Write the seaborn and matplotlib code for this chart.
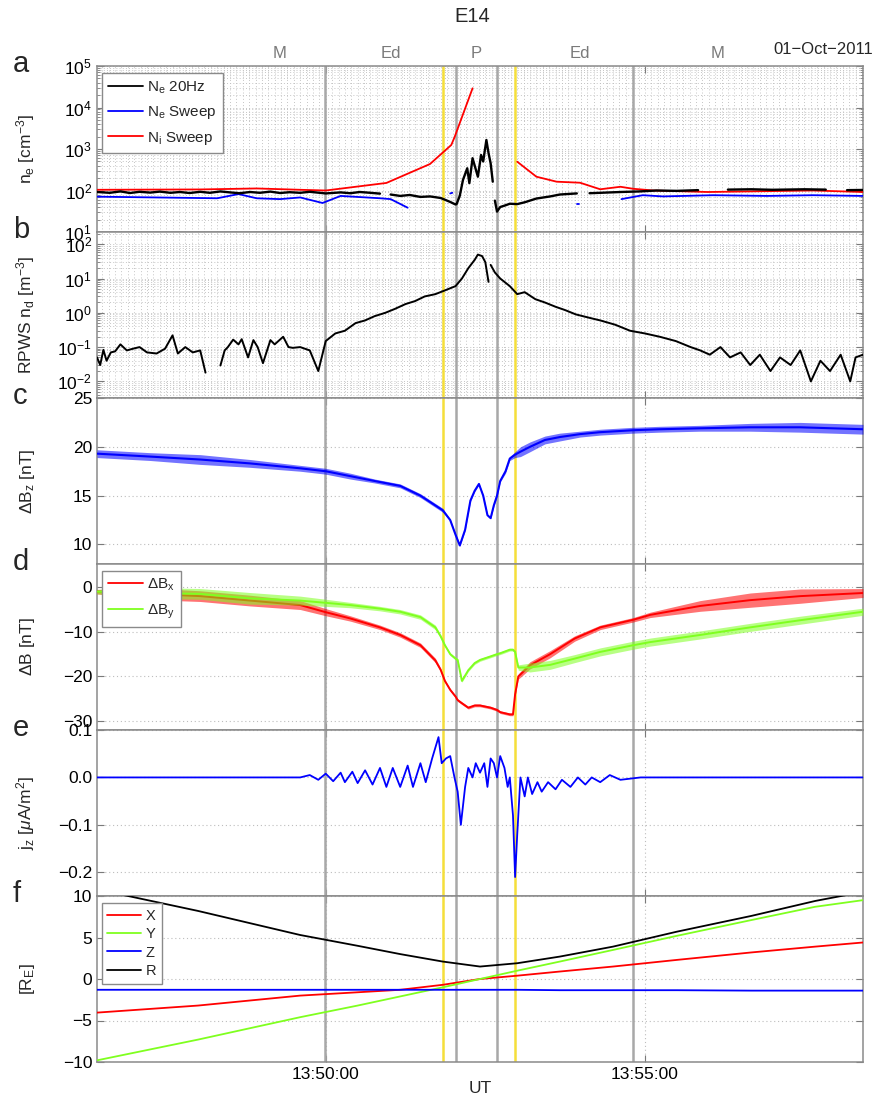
import numpy as np
import pandas as pd
import matplotlib
matplotlib.use("Agg")
import matplotlib.pyplot as plt
import matplotlib.dates as mdates
import matplotlib.transforms as mtrans
from matplotlib.ticker import LogLocator, NullFormatter, FixedLocator, LogFormatterMathtext
from matplotlib.lines import Line2D
import seaborn as sns

sns.set_style("ticks")
plt.rcParams["font.family"] = ["Liberation Sans", "DejaVu Sans"]
plt.rcParams["mathtext.fontset"] = "custom"
plt.rcParams["mathtext.rm"] = "Liberation Sans"
plt.rcParams["mathtext.it"] = "Liberation Sans:italic"
plt.rcParams["mathtext.bf"] = "Liberation Sans:bold"

DAY = "2011-10-01 "
NaN = np.nan

# ---------------- data ----------------
t_start, t_end = "13:46:25", "13:58:25"
gray_bounds = ["13:49:59", "13:52:02", "13:52:41", "13:54:49"]
yellow_bounds = ["13:51:50", "13:52:58"]
region_labels = ["M", "Ed", "P", "Ed", "M"]
region_label_times = ["13:49:17", "13:51:01", "13:52:21", "13:53:59", "13:56:08"]
xtick_times = ["13:50:00", "13:55:00"]

# panel a
ni_t = ["13:46:25", "13:48:02", "13:48:55", "13:49:36", "13:50:00", "13:50:57", "13:51:38",
        "13:51:58", "13:52:01", "13:52:18", "13:52:40", "13:53:00", "13:53:18", "13:53:37",
        "13:53:59", "13:54:18", "13:54:37", "13:54:49", "13:55:08", "13:55:59", "13:57:38", "13:58:25"]
ni_v = [104, 106, 112, 104, 100, 152, 435, 1250, 1900, 29000, NaN, 494, 215, 163,
        154, 107, 123, 110, 100, 92, 100, 92]

nes_t = ["13:46:25", "13:48:18", "13:48:38", "13:48:55", "13:49:17", "13:49:36", "13:49:57",
         "13:50:14", "13:50:51", "13:51:01", "13:51:17", "13:51:30", "13:51:57", "13:51:59",
         "13:52:30", "13:53:56", "13:53:58", "13:54:20", "13:54:38", "13:54:58", "13:55:17",
         "13:56:04", "13:56:55", "13:57:38", "13:58:25"]
nes_v = [71, 65, 82, 65, 62, 68, 50, 74, 65, 62, 38.5, NaN, 85, 88, NaN, 47, 47, NaN,
         62, 77, 72, 77, 74, 77, 74]

ne20_t = ["13:46:25", "13:46:37", "13:46:47", "13:46:56", "13:47:05", "13:47:15", "13:47:24",
          "13:47:34", "13:47:43", "13:47:52", "13:48:02", "13:48:11", "13:48:21", "13:48:30",
          "13:48:39", "13:48:49", "13:48:58", "13:49:08", "13:49:17", "13:49:26", "13:49:36",
          "13:49:45", "13:50:00", "13:50:14", "13:50:23", "13:50:32", "13:50:42", "13:50:51",
          "13:50:55", "13:51:01", "13:51:10", "13:51:19", "13:51:29", "13:51:38", "13:51:48",
          "13:51:52", "13:51:57", "13:52:02", "13:52:03", "13:52:06", "13:52:09", "13:52:13",
          "13:52:15", "13:52:18", "13:52:23", "13:52:26", "13:52:28", "13:52:31", "13:52:33",
          "13:52:35", "13:52:37", "13:52:38", "13:52:39", "13:52:41", "13:52:44", "13:52:49",
          "13:52:53", "13:53:00", "13:53:07", "13:53:18", "13:53:31", "13:53:40", "13:53:56",
          "13:54:02", "13:54:08", "13:54:18", "13:54:37", "13:54:55", "13:55:11", "13:55:30",
          "13:55:50", "13:56:05", "13:56:18", "13:56:40", "13:57:00", "13:57:30", "13:57:50",
          "13:58:00", "13:58:10", "13:58:25"]
ne20_v = [92, 88, 95, 87, 93, 89, 94, 88, 92, 87, 93, 88, 95, 90, 86, 92, 88, 94, 87, 91, 88,
          93, 85, 90, 86, 92, 88, 84, NaN, 80, 74, 78, 70, 72, 66, 60, 53, 46, 47, 75, 180, 343,
          150, 600, 215, 717, 500, 1650, 800, 452, 163, NaN, 57, 31, 40, 44, 48, 47, 52, 64, 72,
          80, 85, NaN, 86, 88, 92, 95, 100, 98, 102, NaN, 105, 107, 104, 107, 105, NaN, 102, 103]

# panel b
nd_t = ["13:46:25", "13:46:28", "13:46:31", "13:46:34", "13:46:38", "13:46:42", "13:46:47",
        "13:46:53", "13:46:59", "13:47:05", "13:47:12", "13:47:21", "13:47:29", "13:47:36",
        "13:47:41", "13:47:48", "13:47:55", "13:48:02", "13:48:07", "13:48:09", "13:48:21",
        "13:48:25", "13:48:28", "13:48:33", "13:48:38", "13:48:41", "13:48:47", "13:48:52",
        "13:48:56", "13:49:01", "13:49:08", "13:49:12", "13:49:20", "13:49:25", "13:49:29",
        "13:49:36", "13:49:45", "13:49:53", "13:50:00", "13:50:09", "13:50:18", "13:50:28",
        "13:50:37", "13:50:46", "13:50:56", "13:51:05", "13:51:15", "13:51:24", "13:51:33",
        "13:51:43", "13:51:52", "13:52:02", "13:52:08", "13:52:14", "13:52:20", "13:52:23",
        "13:52:27", "13:52:30", "13:52:33", "13:52:34", "13:52:35", "13:52:39", "13:52:44",
        "13:52:53", "13:53:00", "13:53:07", "13:53:17", "13:53:26", "13:53:36", "13:53:45",
        "13:53:55", "13:54:09", "13:54:18", "13:54:32", "13:54:46", "13:55:00", "13:55:14",
        "13:55:29", "13:55:43", "13:55:52", "13:56:01", "13:56:11", "13:56:20", "13:56:30",
        "13:56:39", "13:56:48", "13:56:58", "13:57:07", "13:57:17", "13:57:26", "13:57:36",
        "13:57:45", "13:57:54", "13:58:04", "13:58:13", "13:58:18", "13:58:25"]
nd_v = [0.05, 0.03, 0.083, 0.04, 0.07, 0.075, 0.12, 0.08, 0.09, 0.1, 0.07, 0.065, 0.09, 0.22,
        0.065, 0.1, 0.07, 0.08, 0.018, NaN, 0.029, 0.08, 0.1, 0.165, 0.12, 0.17, 0.05, 0.16,
        0.1, 0.034, 0.16, 0.12, 0.2, 0.1, 0.095, 0.1, 0.08, 0.02, 0.15, 0.25, 0.3, 0.5, 0.6,
        0.8, 1.0, 1.3, 1.8, 2.2, 3.0, 3.5, 4.5, 6, 10, 20, 35, 50, 45, 30, 8, NaN, 25, 15, 10,
        6, 3.5, 4, 2.5, 2, 1.5, 1.2, 0.9, 0.7, 0.6, 0.45, 0.3, 0.25, 0.2, 0.15, 0.1, 0.08,
        0.06, 0.1, 0.05, 0.07, 0.03, 0.06, 0.02, 0.05, 0.03, 0.08, 0.01, 0.04, 0.02, 0.06,
        0.01, 0.05, 0.06]

# panel c (value and half-amplitude of the fast ripple)
bz_t = ["13:46:25", "13:47:15", "13:48:02", "13:48:49", "13:49:36", "13:50:00", "13:50:23",
        "13:50:46", "13:51:10", "13:51:29", "13:51:43", "13:51:50", "13:51:57", "13:52:02",
        "13:52:06", "13:52:11", "13:52:16", "13:52:20", "13:52:24", "13:52:28", "13:52:32",
        "13:52:35", "13:52:38", "13:52:41", "13:52:44", "13:52:49", "13:52:53", "13:52:58",
        "13:53:03", "13:53:12", "13:53:26", "13:53:40", "13:53:59", "13:54:18", "13:54:49",
        "13:55:14", "13:55:52", "13:56:39", "13:57:26", "13:58:25"]
bz_v = [19.3, 19.0, 18.7, 18.3, 17.8, 17.5, 17.0, 16.5, 16.0, 15.0, 14.0, 13.5, 12.5, 11.0,
        9.9, 11.5, 14.5, 15.5, 16.2, 15.0, 13.0, 12.7, 14.0, 15.0, 16.5, 17.5, 18.8, 19.2,
        19.5, 20.0, 20.7, 21.0, 21.3, 21.5, 21.7, 21.8, 21.9, 22.0, 22.0, 21.8]
bz_amp = [0.4, 0.4, 0.5, 0.4, 0.3, 0.3, 0.3, 0.2, 0.2, 0.2, 0.2, 0.2, 0.1, 0.1,
          0.1, 0.1, 0.1, 0.1, 0.1, 0.1, 0.1, 0.1, 0.1, 0.1, 0.1, 0.2, 0.2, 0.3,
          0.5, 0.5, 0.4, 0.4, 0.3, 0.3, 0.3, 0.3, 0.3, 0.4, 0.5, 0.5]

# panel d
bxy_t = ["13:46:25", "13:47:15", "13:48:02", "13:48:49", "13:49:36", "13:50:00", "13:50:23",
         "13:50:51", "13:51:10", "13:51:29", "13:51:43", "13:51:48", "13:51:52", "13:51:57",
         "13:52:02", "13:52:04", "13:52:08", "13:52:14", "13:52:20", "13:52:25", "13:52:35",
         "13:52:41", "13:52:44", "13:52:53", "13:52:56", "13:52:58", "13:53:01", "13:53:12",
         "13:53:31", "13:53:54", "13:54:18", "13:54:49", "13:55:05", "13:55:52", "13:56:39",
         "13:57:26", "13:58:25"]
bx_v = [-1, -1.5, -2, -3, -4, -5.6, -7, -9, -10.7, -13, -16.4, -18.5, -21, -23, -24.5, -25.3,
        -26, -27, -26.5, -26.5, -27, -27.5, -28, -28.5, -28.5, -24, -20, -17.5, -15, -11.5,
        -9, -7.3, -6.2, -4.2, -2.9, -2, -1.3]
bx_amp = [0.5, 1.3, 1.2, 1.2, 1.0, 0.8, 0.6, 0.5, 0.5, 0.5, 0.5, 0.4, 0.3, 0.3, 0.3, 0.3,
          0.3, 0.3, 0.3, 0.3, 0.3, 0.3, 0.3, 0.3, 0.3, 0.3, 0.6, 0.8, 0.8, 0.6, 0.5, 0.5,
          0.6, 1.2, 1.6, 1.6, 1.0]
by_v = [-1, -1.3, -1.5, -2.5, -3, -3.5, -4, -4.8, -5.5, -6.7, -9, -11, -13, -15, -16, -16.3,
        -21, -18.6, -17, -16.3, -15.5, -15, -14.8, -14, -14, -14.5, -18, -18, -17.4, -16,
        -14.5, -13, -12.3, -10.7, -9, -7.4, -5.5]
by_amp = [0.5, 1.2, 1.2, 1.3, 1.0, 0.8, 0.6, 0.5, 0.5, 0.5, 0.5, 0.4, 0.3, 0.3, 0.3, 0.3,
          0.3, 0.3, 0.3, 0.3, 0.3, 0.3, 0.3, 0.3, 0.3, 0.3, 0.6, 1.0, 1.0, 0.9, 0.9, 0.9,
          0.9, 0.9, 0.9, 0.9, 0.8]

# panel e
jz_t = ["13:46:25", "13:49:36", "13:49:45", "13:49:53", "13:50:00", "13:50:07", "13:50:14",
        "13:50:18", "13:50:25", "13:50:30", "13:50:37", "13:50:44", "13:50:51", "13:50:57",
        "13:51:03", "13:51:10", "13:51:17", "13:51:22", "13:51:29", "13:51:34", "13:51:40",
        "13:51:46", "13:51:49", "13:51:53", "13:51:57", "13:52:01", "13:52:04", "13:52:07",
        "13:52:11", "13:52:14", "13:52:18", "13:52:21", "13:52:25", "13:52:29", "13:52:32",
        "13:52:35", "13:52:38", "13:52:41", "13:52:44", "13:52:48", "13:52:51", "13:52:53",
        "13:52:56", "13:52:58", "13:53:00", "13:53:03", "13:53:07", "13:53:10", "13:53:14",
        "13:53:19", "13:53:23", "13:53:29", "13:53:36", "13:53:42", "13:53:50", "13:53:57",
        "13:54:04", "13:54:10", "13:54:18", "13:54:27", "13:54:37", "13:54:56", "13:58:25"]
jz_v = [0, 0, 0.005, -0.005, 0.008, -0.008, 0.01, -0.01, 0.012, -0.012, 0.015, -0.015, 0.02,
        -0.02, 0.02, -0.02, 0.025, -0.02, 0.03, -0.01, 0.04, 0.085, 0.03, 0.04, 0.045, 0.0,
        -0.03, -0.1, -0.02, 0.02, 0.0, 0.03, 0.01, 0.03, -0.02, 0.04, 0.03, 0.0, 0.045, 0.02,
        -0.02, 0.0, -0.08, -0.21, -0.12, 0.0, -0.04, 0.0, -0.035, -0.01, -0.03, -0.01, -0.025,
        -0.005, -0.02, 0.0, -0.015, 0.0, -0.01, 0.005, -0.005, 0.0, 0.0]

# panel f
pos_t = ["13:46:25", "13:48:00", "13:49:36", "13:50:30", "13:51:10", "13:51:50", "13:52:25",
         "13:53:00", "13:53:40", "13:54:30", "13:55:30", "13:56:40", "13:57:40", "13:58:25"]
pos_x = [-4.05, -3.2, -2.0, -1.6, -1.3, -0.7, 0.0, 0.4, 0.9, 1.5, 2.3, 3.2, 3.9, 4.4]
pos_y = [-9.8, -7.3, -4.6, -3.2, -2.1, -1.0, 0.0, 1.0, 2.1, 3.5, 5.2, 7.1, 8.7, 9.5]
pos_z = [-1.3, -1.3, -1.3, -1.3, -1.3, -1.3, -1.3, -1.3, -1.35, -1.35, -1.35, -1.4, -1.4, -1.4]
pos_r = [10.8, 8.2, 5.3, 4.0, 3.0, 2.1, 1.5, 1.9, 2.7, 3.9, 5.7, 7.6, 9.4, 10.5]

# ---------------- helpers ----------------
def to_dt(ts):
    return pd.to_datetime([DAY + s for s in ts])

def draw(ax, times, vals, color, lw=1.3, zorder=3):
    df = pd.DataFrame({"t": to_dt(times), "v": np.array(vals, dtype=float)})
    df["seg"] = df["v"].isna().cumsum()
    df = df.dropna()
    sns.lineplot(data=df, x="t", y="v", units="seg", estimator=None, sort=False,
                 color=color, lw=lw, ax=ax, legend=False, zorder=zorder)

def band(ax, times, vals, amp, color, alpha=0.55, zorder=2.9):
    t = to_dt(times)
    v = np.array(vals, dtype=float)
    h = np.array(amp, dtype=float)
    ax.fill_between(t, v - h, v + h, color=color, alpha=alpha, lw=0, zorder=zorder)

RED = "#ff0000"
BLUE = "#0000ff"
GREEN = "#7fff1f"
BLACK = "#000000"
FRAME = "#8a8a8a"
GRID = "#bdbdbd"

W, H = 882, 1105
fig = plt.figure(figsize=(W / 100, H / 100), dpi=100)
top_px, bot_px = 66, 1062
left_px, right_px = 97, 863
n = 6
ph = (bot_px - top_px) / n
axes = []
for i in range(n):
    top_i = top_px + i * ph
    axes.append(fig.add_axes([left_px / W, 1 - (top_i + ph) / H, (right_px - left_px) / W, ph / H]))

xlim = mdates.date2num(to_dt([t_start, t_end]))

for ax in axes:
    for t in to_dt(gray_bounds):
        ax.axvline(t, color="#a8a8a8", lw=1.8, zorder=1.5)
    for t in to_dt(yellow_bounds):
        ax.axvline(t, color="#f5df3a", lw=1.8, zorder=1.5)

a, b, c, d, e, f = axes
a.set_yscale("log")
b.set_yscale("log")

draw(a, ni_t, ni_v, RED)
draw(a, nes_t, nes_v, BLUE)
draw(a, ne20_t, ne20_v, BLACK, lw=1.7)
draw(b, nd_t, nd_v, BLACK, lw=1.4)
band(c, bz_t, bz_v, bz_amp, BLUE)
draw(c, bz_t, bz_v, BLUE, lw=1.5)
band(d, bxy_t, bx_v, bx_amp, RED)
draw(d, bxy_t, bx_v, RED, lw=1.4)
band(d, bxy_t, by_v, by_amp, GREEN, zorder=3.1)
draw(d, bxy_t, by_v, GREEN, lw=1.4, zorder=3.2)
draw(e, jz_t, jz_v, BLUE, lw=1.3)
draw(f, pos_t, pos_x, RED)
draw(f, pos_t, pos_y, GREEN)
draw(f, pos_t, pos_z, BLUE)
draw(f, pos_t, pos_r, BLACK)

ylims = [(10, 1e5), (10 ** -2.485, 10 ** 2.357), (8, 25), (-32, 5.2), (-0.25, 0.1), (-10, 10)]
ylabels = ["n$_\\mathrm{e}$ [cm$^{-3}$]", "RPWS n$_\\mathrm{d}$ [m$^{-3}$]",
           "$\\Delta$B$_\\mathrm{z}$ [nT]", "$\\Delta$B [nT]",
           "j$_\\mathrm{z}$ [$\\mu$A/m$^2$]", "[R$_\\mathrm{E}$]"]
yticks = [None, None, [10, 15, 20, 25], [-30, -20, -10, 0], [-0.2, -0.1, 0, 0.1], [-10, -5, 0, 5, 10]]

for i, ax in enumerate(axes):
    ax.set_xlim(xlim)
    ax.set_ylim(*ylims[i])
    ax.xaxis.set_major_locator(FixedLocator(mdates.date2num(to_dt(xtick_times))))
    ax.xaxis.set_major_formatter(mdates.DateFormatter("%H:%M:%S"))
    if i < 2:
        ax.xaxis.set_minor_locator(mdates.SecondLocator(bysecond=range(0, 60, 6)))
        ax.yaxis.set_major_locator(LogLocator(base=10, numticks=12))
        ax.yaxis.set_minor_locator(LogLocator(base=10, subs=np.arange(2, 10), numticks=12))
        ax.yaxis.set_minor_formatter(NullFormatter())
        ax.yaxis.set_major_formatter(LogFormatterMathtext())
        ax.grid(True, which="both", axis="both", ls=(0, (1, 2.5)), color=GRID, lw=0.65)
    else:
        ax.set_yticks(yticks[i])
        ax.grid(True, which="major", axis="both", ls=(0, (1, 2.5)), color=GRID, lw=0.8)
    ax.tick_params(which="both", direction="in", top=True, right=True, color="#7a7a7a",
                   labelsize=12.5, labelcolor="black")
    ax.tick_params(which="major", length=5)
    ax.tick_params(which="minor", length=2.5)
    ax.tick_params(axis="x", which="minor", length=0)
    for s in ax.spines.values():
        s.set_color(FRAME)
        s.set_linewidth(1.1)
    ax.set_ylabel(ylabels[i], fontsize=12.5)
    ax.yaxis.set_label_coords(-(97 - 37) / 766, 0.5)
    ax.set_xlabel("")
    if i < n - 1:
        ax.tick_params(axis="x", labelbottom=False)
    ax.set_axisbelow(True)

f.set_xlabel("UT", fontsize=12.5)
f.xaxis.set_label_coords(0.5, -(1081 - 1062) / ph)

# legends
def legend(ax, labels, colors, anchor, fs, spacing):
    hs = [Line2D([], [], color=c_, lw=1.3) for c_ in colors]
    lg = ax.legend(hs, labels, loc="upper left", bbox_to_anchor=anchor, borderaxespad=0,
                   fontsize=fs, handlelength=2.3, handletextpad=0.3, labelspacing=spacing,
                   fancybox=False, framealpha=1, edgecolor=FRAME, borderpad=0.4)
    lg.get_frame().set_linewidth(1.0)
    lg.set_zorder(10)

legend(a, ["N$_\\mathrm{e}$ 20Hz", "N$_\\mathrm{e}$ Sweep", "N$_\\mathrm{i}$ Sweep"],
       [BLACK, BLUE, RED], (0.006, 0.956), 11, 0.55)
legend(d, ["$\\Delta$B$_\\mathrm{x}$", "$\\Delta$B$_\\mathrm{y}$"], [RED, GREEN], (0.006, 0.96), 11, 0.6)
legend(f, ["X", "Y", "Z", "R"], [RED, GREEN, BLUE, BLACK], (0.006, 0.958), 10.5, 0.3)

# panel letters
for i, letter in enumerate("abcdef"):
    top_i = top_px + i * ph
    fig.text(13 / W, 1 - (top_i + 6) / H, letter, fontsize=21, ha="left", va="baseline")

# region labels
trans = mtrans.blended_transform_factory(a.transData, a.transAxes)
for lab, t in zip(region_labels, to_dt(region_label_times)):
    a.text(mdates.date2num(t), 1 + 8.5 / ph, lab, transform=trans, ha="center",
           va="baseline", fontsize=12, color="#7a7a7a")
fig.text(773 / W, 1 - 53.5 / H, "01\u2212Oct\u22122011", fontsize=12, ha="left", va="baseline")
fig.text(472 / W, 1 - 22 / H, "E14", fontsize=14.5, ha="center", va="baseline")

fig.savefig("out.png", dpi=100)
